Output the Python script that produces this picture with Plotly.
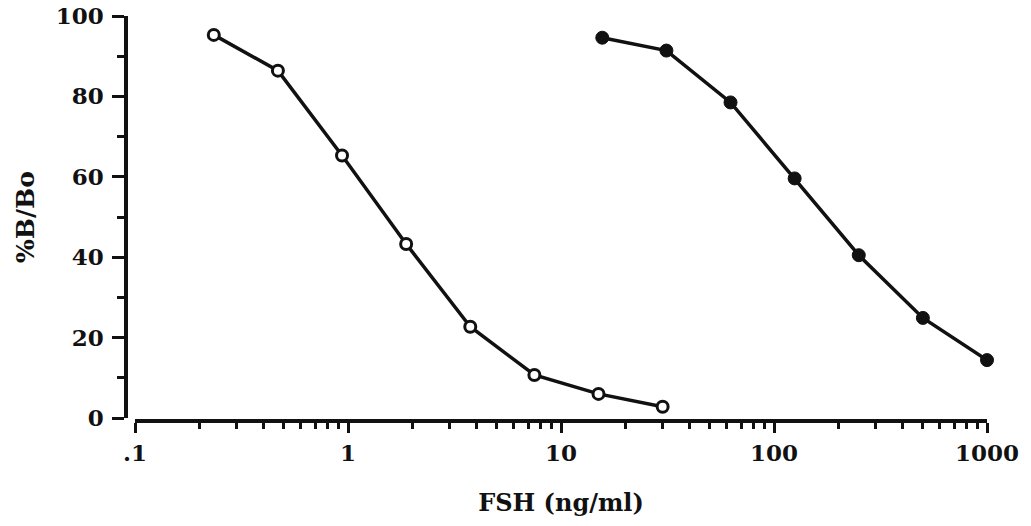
import plotly.graph_objects as go

# Competitive binding curves: %B/Bo versus FSH concentration (two-fold dilution series)
conc_open = [0.234375, 0.46875, 0.9375, 1.875, 3.75, 7.5, 15, 30]
bbo_open = [95.3, 86.4, 65.3, 43.3, 22.7, 10.7, 6.0, 2.8]

conc_filled = [15.625, 31.25, 62.5, 125, 250, 500, 1000]
bbo_filled = [94.6, 91.4, 78.5, 59.6, 40.5, 24.9, 14.4]

x_tickvals = [0.1, 1, 10, 100, 1000]
x_ticktext = [".1", "1", "10", "100", "1000"]
x_minor_vals = [m * 10 ** e for e in range(-1, 3) for m in range(2, 10)]
y_tickvals = [0, 20, 40, 60, 80, 100]

INK = "#111111"
FONT = "DejaVu Serif"

fig = go.Figure()

fig.add_trace(go.Scatter(
    x=conc_open, y=bbo_open, mode="lines+markers",
    line=dict(color=INK, width=3.5),
    marker=dict(symbol="circle", size=11, color="white",
                line=dict(color=INK, width=3)),
    cliponaxis=False, showlegend=False,
))

fig.add_trace(go.Scatter(
    x=conc_filled, y=bbo_filled, mode="lines+markers",
    line=dict(color=INK, width=3.5),
    marker=dict(symbol="circle", size=13, color=INK,
                line=dict(color=INK, width=1)),
    cliponaxis=False, showlegend=False,
))

fig.update_layout(
    width=1031, height=526,
    margin=dict(l=126, r=44, t=16, b=105, autoexpand=False),
    paper_bgcolor="white", plot_bgcolor="white",
    font=dict(family=FONT, color=INK, size=23),
    xaxis=dict(
        type="log", range=[-1, 3], domain=[9 / 861, 1],
        anchor="free", position=0, automargin=False,
        showline=True, linecolor=INK, linewidth=3.5,
        showgrid=False, zeroline=False,
        ticks="outside", ticklen=10, tickwidth=3, tickcolor=INK,
        tickvals=x_tickvals, ticktext=x_ticktext,
        tickfont=dict(family=FONT, size=23, color=INK, weight="bold"),
        ticklabelstandoff=1,
        minor=dict(tickvals=x_minor_vals, ticks="outside", ticklen=6,
                   tickwidth=3, tickcolor=INK, showgrid=False),
        title=dict(text="FSH (ng/ml)",
                   font=dict(family=FONT, size=24, color=INK, weight="bold"),
                   standoff=28),
    ),
    yaxis=dict(
        range=[0, 100], domain=[3 / 405, 1],
        anchor="free", position=0, automargin=False,
        showline=True, linecolor=INK, linewidth=3.5,
        showgrid=False, zeroline=False,
        ticks="outside", ticklen=12, tickwidth=3, tickcolor=INK,
        tickvals=y_tickvals,
        tickfont=dict(family=FONT, size=23, color=INK, weight="bold"),
        ticklabelstandoff=4,
        minor=dict(dtick=10, ticks="outside", ticklen=7,
                   tickwidth=3, tickcolor=INK, showgrid=False),
        title=dict(text="%B/Bo",
                   font=dict(family=FONT, size=25, color=INK, weight="bold"),
                   standoff=13),
    ),
)

fig.write_html("out.html")
